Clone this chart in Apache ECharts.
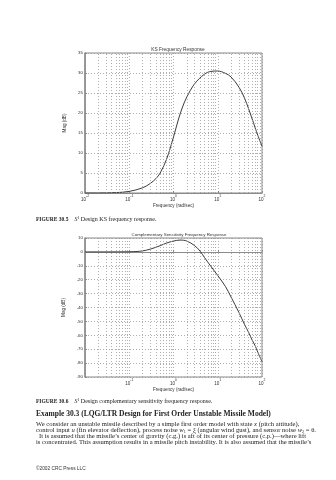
<!DOCTYPE html>
<html>
<head>
<meta charset="utf-8">
<script src="https://cdn.jsdelivr.net/npm/echarts@6/dist/echarts.min.js"></script>
<style>
  html, body { margin: 0; padding: 0; background: #fff; }
  #page { width: 336px; height: 480px; }
</style>
</head>
<body>
<div id="page"></div>
<script>
// KS frequency response (dB) sampled along frequency (rad/sec)
const ksFreq = [0.01, 0.02, 0.05, 0.1, 0.2, 0.3, 0.4, 0.5, 0.7, 1, 1.3, 1.6, 2, 3, 5, 7, 10, 15, 20, 30, 40, 50, 60, 70, 80, 100];
const ksMag  = [0, 0, 0.1, 0.4, 1.3, 2.4, 3.6, 5, 8.5, 14, 18.5, 21.5, 24, 27.3, 29.7, 30.4, 30.5, 29.9, 29, 26.5, 23.8, 21, 18.5, 16.3, 14.5, 11.7];

// Complementary sensitivity frequency response (dB)
const tFreq = [0.01, 0.03, 0.1, 0.15, 0.2, 0.3, 0.5, 0.7, 1, 1.4, 2, 3, 4, 5, 7, 10, 15, 20, 30, 40, 50, 60, 70, 80, 100];
const tMag  = [0, 0, 0.1, 0.3, 0.7, 2, 4.5, 6.4, 7.8, 8.5, 7.8, 4.5, 0.5, -4, -10.4, -17, -25, -32.5, -43.5, -52, -58, -63.5, -67.5, -72, -79];

// Axis tick values
const ksYTicks = { min: 0, max: 35, step: 5 };
const tYTicks  = { min: -90, max: 10, step: 10 };
const decades  = [-2, -1, 0, 1];

const chart = echarts.init(document.getElementById('page'), null, { renderer: 'canvas' });

const GRID_COLOR = '#9a9a9a';
const AXIS_COLOR = '#8a8a8a';
const TEXT_COLOR = '#333';
const SANS = 'Liberation Sans, Arial, sans-serif';
const SERIF = 'Liberation Serif, Times New Roman, serif';

// minor log grid positions: 2..9 within each decade
const minorLines = [];
decades.forEach(k => {
  for (let m = 2; m <= 9; m++) minorLines.push({ xAxis: m * Math.pow(10, k) });
});

function pairs(xs, ys) { return xs.map((x, i) => [x, ys[i]]); }

function logLabel(v) {
  const e = Math.round(Math.log10(v));
  return '{b|10}{s|' + e + '}';
}

const labelRich = {
  b: { fontSize: 4.6, fontFamily: SANS, color: TEXT_COLOR, lineHeight: 7, verticalAlign: 'bottom' },
  s: { fontSize: 3.4, fontFamily: SANS, color: TEXT_COLOR, lineHeight: 7, verticalAlign: 'top' }
};

function xAxisCfg(gridIndex, showMin) {
  return {
    type: 'log', logBase: 10, gridIndex, min: 0.01, max: 100,
    name: 'Frequency (rad/sec)', nameLocation: 'middle', nameGap: 9,
    nameTextStyle: { fontSize: 4.6, fontFamily: SANS, color: TEXT_COLOR },
    axisLine: { show: true, lineStyle: { color: AXIS_COLOR, width: 1 } },
    axisTick: { show: true, inside: true, length: 2, lineStyle: { color: AXIS_COLOR } },
    axisLabel: { formatter: logLabel, rich: labelRich, margin: 2, showMinLabel: showMin },
    splitLine: { show: true, lineStyle: { color: GRID_COLOR, type: [1, 2], width: 0.8 } }
  };
}

function yAxisCfg(gridIndex, t) {
  return {
    type: 'value', gridIndex, min: t.min, max: t.max, interval: t.step,
    name: 'Mag (dB)', nameLocation: 'middle', nameGap: 8, nameRotate: 90,
    nameTextStyle: { fontSize: 4.6, fontFamily: SANS, color: TEXT_COLOR },
    axisLine: { show: true, lineStyle: { color: AXIS_COLOR, width: 1.5 } },
    axisTick: { show: true, inside: true, length: 2, lineStyle: { color: AXIS_COLOR } },
    axisLabel: { fontSize: 4.4, fontFamily: SANS, color: TEXT_COLOR, margin: 2 },
    splitLine: { show: true, lineStyle: { color: GRID_COLOR, type: [1, 2], width: 0.8 } }
  };
}

function curve(xi, yi, data) {
  return {
    type: 'line', xAxisIndex: xi, yAxisIndex: yi, data,
    smooth: 0.35, symbol: 'none', clip: true,
    lineStyle: { color: '#3c3c3c', width: 1 },
    markLine: {
      silent: true, symbol: 'none', label: { show: false },
      lineStyle: { color: GRID_COLOR, type: [1, 2], width: 0.8 },
      data: minorLines, animation: false
    }
  };
}

function pageText(x, y, text, style) {
  return { type: 'text', left: x, top: y, silent: true,
    style: Object.assign({ text, fill: '#222' }, style) };
}

const capRich = {
  f: { fontFamily: SERIF, fontWeight: 'bold', fontSize: 5.5, fill: '#222' },
  i: { fontFamily: SERIF, fontStyle: 'italic', fontSize: 6, fill: '#222' },
  s: { fontFamily: SERIF, fontSize: 3.9, fill: '#222', verticalAlign: 'top', lineHeight: 7 },
  t: { fontFamily: SERIF, fontSize: 6, fill: '#222' }
};
const bodyRich = {
  t: { fontFamily: SERIF, fontSize: 6.6, fill: '#222' },
  i: { fontFamily: SERIF, fontStyle: 'italic', fontSize: 6.6, fill: '#222' },
  u: { fontFamily: SERIF, fontSize: 4.2, fill: '#222', verticalAlign: 'bottom', lineHeight: 7 }
};

chart.setOption({
  animation: false,
  backgroundColor: '#fff',
  title: [
    { text: 'KS Frequency Response', left: 173, top: 42, textAlign: 'center',
      textStyle: { fontSize: 4.8, fontWeight: 'normal', fontFamily: SANS, color: TEXT_COLOR } },
    { text: 'Complementary Sensitivity Frequency Response', left: 174, top: 228, textAlign: 'center',
      textStyle: { fontSize: 4.4, fontWeight: 'normal', fontFamily: SANS, color: TEXT_COLOR } }
  ],
  grid: [
    { left: 85, right: 74, top: 53, height: 140, show: true, borderColor: AXIS_COLOR, borderWidth: 1 },
    { left: 85, right: 74, top: 238, height: 139, show: true, borderColor: AXIS_COLOR, borderWidth: 1 }
  ],
  xAxis: [xAxisCfg(0, true), xAxisCfg(1, false)],
  yAxis: [yAxisCfg(0, ksYTicks), yAxisCfg(1, tYTicks)],
  series: [curve(0, 0, pairs(ksFreq, ksMag)), curve(1, 1, pairs(tFreq, tMag))],
  graphic: [
    pageText(36, 216, '{f|FIGURE 30.5}{t|    }{i|S}{s|1}{t| Design KS frequency response.}', { rich: capRich }),
    pageText(36, 398, '{f|FIGURE 30.6}{t|    }{i|S}{s|1}{t| Design complementary sensitivity frequency response.}', { rich: capRich }),
    pageText(36, 410, 'Example 30.3 (LQG/LTR Design for First Order Unstable Missile Model)',
      { fontFamily: SERIF, fontWeight: 'bold', fontSize: 7.5, fill: '#222' }),
    pageText(36, 421, '{t|We consider an unstable missile described by a simple first order model with state }{i|x}{t| (pitch attitude),}', { rich: bodyRich }),
    pageText(36, 427, '{t|control input }{i|u}{t| (fin elevator deflection), process noise }{i|w}{u|1}{t| = ξ (angular wind gust), and sensor noise }{i|w}{u|2}{t| = θ.}', { rich: bodyRich }),
    pageText(39, 433, '{t|It is assumed that the missile’s center of gravity (c.g.) is aft of its center of pressure (c.p.)—where lift}', { rich: bodyRich }),
    pageText(36, 439, '{t|is concentrated. This assumption results in a missile pitch instability. It is also assumed that the missile’s}', { rich: bodyRich }),
    pageText(36, 466, '©2002 CRC Press LLC', { fontFamily: SANS, fontSize: 4.8, fill: '#333' })
  ]
});
</script>
</body>
</html>
